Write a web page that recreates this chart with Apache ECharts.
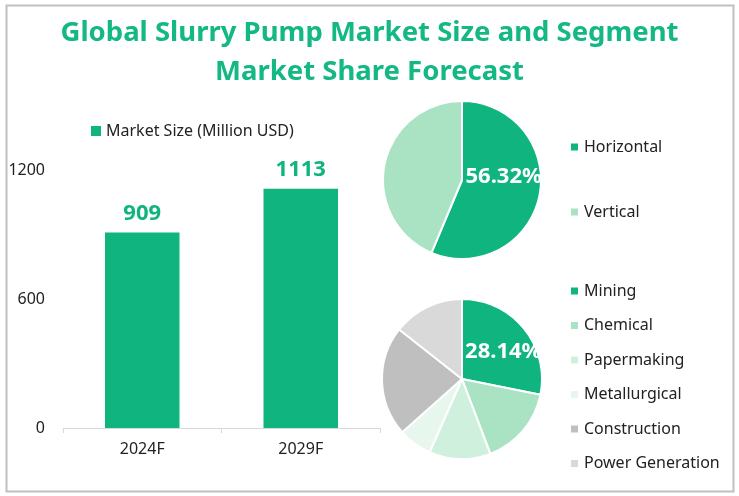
<!DOCTYPE html>
<html>
<head>
<meta charset="utf-8">
<script src="https://cdn.jsdelivr.net/npm/echarts@6/dist/echarts.min.js"></script>
<style>html,body{margin:0;padding:0;background:#fff;}#c{width:739px;height:496px;}</style>
</head>
<body>
<div id="c"></div>
<script>
const titleText = 'Global Slurry Pump Market Size and Segment\nMarket Share Forecast';
const years = ['2024F', '2029F'];
const marketSize = [909, 1113];
const barSeriesName = 'Market Size (Million USD)';
const yTicks = [0, 600, 1200];
const typeNames = ['Horizontal', 'Vertical'];
const typeShares = [56.32, 43.68];
const appNames = ['Mining', 'Chemical', 'Papermaking', 'Metallurgical', 'Construction', 'Power Generation'];
const appShares = [28.14, 16.1, 12.4, 6.8, 22.2, 14.36];

const green = '#0fb47f';
const typeColors = ['#0fb47f', '#a9e3c3'];
const appColors = ['#0fb47f', '#a9e3c3', '#cff0dc', '#e7f7ed', '#bfbfbf', '#d9d9d9'];
const FONT = '"Noto Sans", "Open Sans", sans-serif';

const chart = echarts.init(document.getElementById('c'));
chart.setOption({
  animation: false,
  textStyle: { fontFamily: FONT },
  title: {
    text: titleText,
    left: 'center', top: 9,
    textStyle: { color: '#14b884', fontSize: 27.5, fontWeight: 'bold', lineHeight: 39, fontFamily: FONT }
  },
  graphic: [{
    type: 'rect', shape: { x: 6.5, y: 5.5, width: 727, height: 486 },
    style: { fill: 'none', stroke: '#c0c0c0', lineWidth: 2 }, silent: true
  }],
  legend: [
    { data: [barSeriesName], left: 86, top: 118, icon: 'rect', itemWidth: 10, itemHeight: 10, itemGap: 10,
      textStyle: { fontSize: 16, color: '#222', fontFamily: FONT } },
    { data: typeNames, orient: 'vertical', left: 564, top: 134, icon: 'rect', itemWidth: 9, itemHeight: 9, itemGap: 49,
      textStyle: { fontSize: 16, color: '#222', fontFamily: FONT } },
    { data: appNames, orient: 'vertical', left: 564, top: 278, icon: 'rect', itemWidth: 9, itemHeight: 9, itemGap: 18.5,
      textStyle: { fontSize: 16, color: '#222', fontFamily: FONT } }
  ],
  grid: { left: 63, right: 359, top: 170, bottom: 68, containLabel: false },
  xAxis: {
    type: 'category', data: years,
    axisLine: { lineStyle: { color: '#d9d9d9' } },
    axisTick: { show: true, length: 5, lineStyle: { color: '#d9d9d9' } },
    axisLabel: { fontSize: 16, color: '#222', margin: 13, fontFamily: FONT }
  },
  yAxis: {
    type: 'value', min: yTicks[0], max: yTicks[yTicks.length - 1], interval: yTicks[1] - yTicks[0],
    axisLine: { show: false }, axisTick: { show: false }, splitLine: { show: false },
    axisLabel: { fontSize: 16, color: '#222', margin: 18, fontFamily: FONT, formatter: v => String(v) }
  },
  series: [
    {
      name: barSeriesName, type: 'bar', data: marketSize, barWidth: '47%',
      itemStyle: { color: green },
      label: { show: true, position: 'top', distance: 8, color: green, fontSize: 22, fontWeight: 'bold', fontFamily: FONT }
    },
    {
      type: 'pie', center: [462, 180], radius: 79, startAngle: 90, clockwise: true,
      data: typeNames.map((n, i) => ({ name: n, value: typeShares[i], itemStyle: { color: typeColors[i] },
        label: { show: i === 0 } })),
      itemStyle: { borderColor: '#fff', borderWidth: 2 },
      labelLine: { show: false },
      label: { position: 'inside', formatter: p => '{a|' + p.value.toFixed(2) + '%}\n{b|}',
        rich: {
          a: { color: '#fff', fontSize: 22, fontWeight: 'bold', fontFamily: FONT, lineHeight: 26 },
          b: { lineHeight: 24, fontSize: 1 }
        } },
      emphasis: { disabled: true }
    },
    {
      type: 'pie', center: [462, 379], radius: 80, startAngle: 90, clockwise: true,
      data: appNames.map((n, i) => ({ name: n, value: appShares[i], itemStyle: { color: appColors[i] },
        label: { show: i === 0 } })),
      itemStyle: { borderColor: '#fff', borderWidth: 2 },
      labelLine: { show: false },
      label: { position: 'inside', formatter: p => p.value.toFixed(2) + '%', color: '#fff', fontSize: 22, fontWeight: 'bold',
        fontFamily: FONT, padding: [0, 0, 2, 16] },
      emphasis: { disabled: true }
    }
  ]
});
</script>
</body>
</html>
